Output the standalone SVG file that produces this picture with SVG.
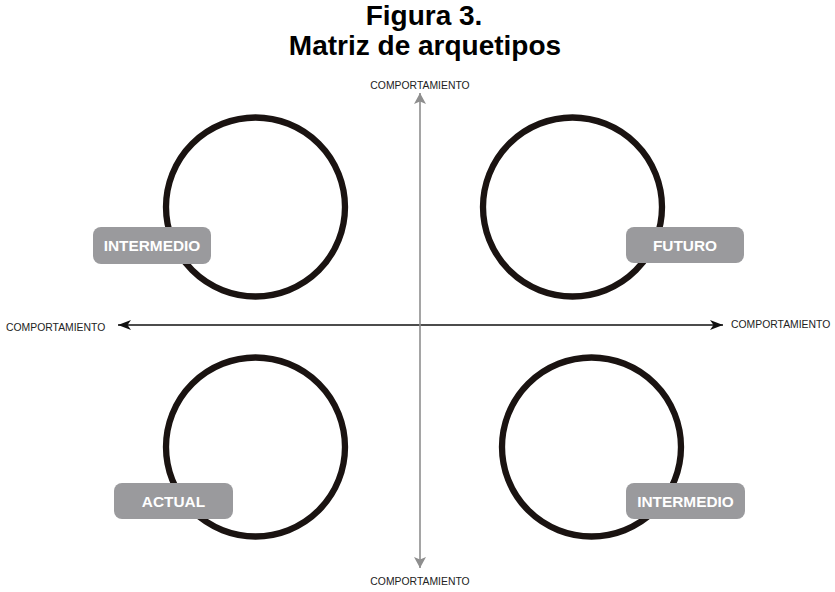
<svg xmlns="http://www.w3.org/2000/svg" width="835" height="592" viewBox="0 0 835 592">
  <style>
    .title { font-family: "Liberation Sans", Arial, sans-serif; font-weight: bold; font-size: 28px; fill: #000; text-anchor: middle; }
    .axis-label { font-family: "Liberation Sans", Arial, sans-serif; font-size: 10.4px; fill: #222; }
    .ring { fill: none; stroke: #1a1311; stroke-width: 6.3; }
    .tag { fill: #9a9a9d; }
    .tag-text { font-family: "Liberation Sans", Arial, sans-serif; font-weight: bold; font-size: 15.4px; fill: #fff; text-anchor: middle; }
    .haxis { stroke: #111; stroke-width: 1.3; fill: none; }
    .vaxis { stroke: #8e8e8e; stroke-width: 1.6; fill: none; }
  </style>
  <defs>
    <marker id="arrBlack" markerUnits="userSpaceOnUse" markerWidth="16" markerHeight="12" viewBox="-14 -6 16 12" refX="0" refY="0" orient="auto-start-reverse">
      <path d="M0,0 L-13,-5 L-9.5,0 L-13,5 Z" fill="#111"/>
    </marker>
    <marker id="arrGray" markerUnits="userSpaceOnUse" markerWidth="14" markerHeight="14" viewBox="-12 -7 14 14" refX="0" refY="0" orient="auto-start-reverse">
      <path d="M0,0 L-11,-6 L-8.5,0 L-11,6 Z" fill="#8e8e8e"/>
    </marker>
  </defs>
  <rect width="835" height="592" fill="#fff"/>

  <g id="title">
    <text class="title" x="424" y="25">Figura 3.</text>
    <text class="title" x="425" y="55">Matriz de arquetipos</text>
  </g>

  <g id="connectors">
    <line class="haxis" x1="118" y1="325" x2="723" y2="325" marker-start="url(#arrBlack)" marker-end="url(#arrBlack)"/>
    <line class="vaxis" x1="420" y1="93" x2="420" y2="568" marker-start="url(#arrGray)" marker-end="url(#arrGray)"/>
  </g>

  <g id="axis-labels">
    <text class="axis-label" x="420" y="89" text-anchor="middle">COMPORTAMIENTO</text>
    <text class="axis-label" x="420" y="585" text-anchor="middle">COMPORTAMIENTO</text>
    <text class="axis-label" x="6" y="331">COMPORTAMIENTO</text>
    <text class="axis-label" x="731" y="328">COMPORTAMIENTO</text>
  </g>

  <g id="node-intermedio-top">
    <circle class="ring" cx="255.5" cy="207" r="89.5"/>
    <rect class="tag" x="93" y="227" width="118" height="37" rx="8"/>
    <text class="tag-text" x="152" y="251">INTERMEDIO</text>
  </g>

  <g id="node-futuro">
    <circle class="ring" cx="572.5" cy="207" r="89.5"/>
    <rect class="tag" x="626" y="227" width="118" height="36" rx="8"/>
    <text class="tag-text" x="685" y="250.5">FUTURO</text>
  </g>

  <g id="node-actual">
    <circle class="ring" cx="255.5" cy="447" r="89.5"/>
    <rect class="tag" x="114" y="483" width="119" height="36" rx="8"/>
    <text class="tag-text" x="173.5" y="506.5">ACTUAL</text>
  </g>

  <g id="node-intermedio-bottom">
    <circle class="ring" cx="591.5" cy="447" r="89.5"/>
    <rect class="tag" x="626" y="483" width="119" height="36" rx="8"/>
    <text class="tag-text" x="685.5" y="506.5">INTERMEDIO</text>
  </g>
</svg>
